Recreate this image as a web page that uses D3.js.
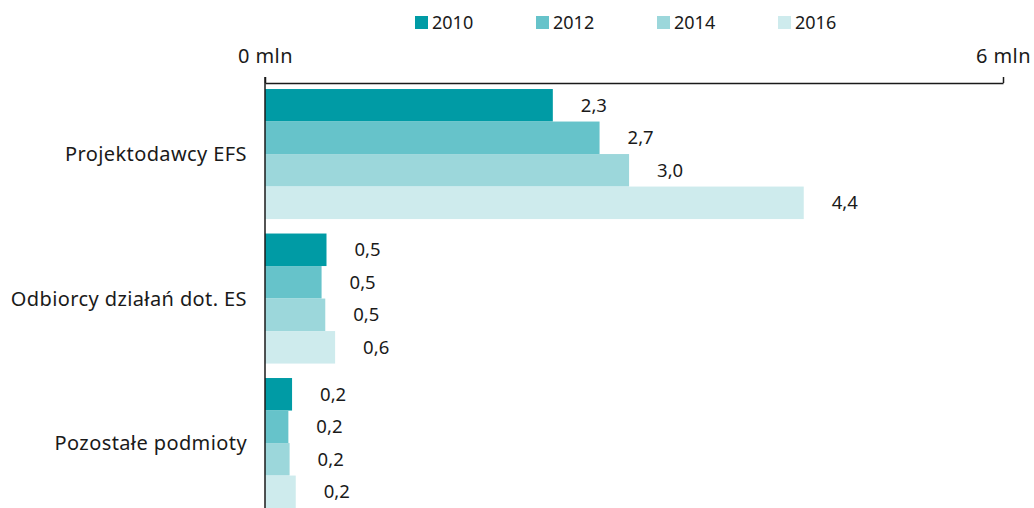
<!DOCTYPE html>
<html>
<head>
<meta charset="utf-8">
<script src="https://cdn.jsdelivr.net/npm/d3@7"></script>
<style>
body{margin:0;background:#fff;}
text{font-family:"Noto Sans",sans-serif;fill:#1a1a1a;}
</style>
</head>
<body>
<div id="chart"></div>
<script>
var w = 1034, h = 508;

// dane (mln)
var categories = ["Projektodawcy EFS", "Odbiorcy działań dot. ES", "Pozostałe podmioty"];
var years = ["2010", "2012", "2014", "2016"];
var values2010 = [2.34, 0.50, 0.22];
var values2012 = [2.72, 0.46, 0.19];
var values2014 = [2.96, 0.49, 0.20];
var values2016 = [4.38, 0.57, 0.25];
var labels2010 = ["2,3", "0,5", "0,2"];
var labels2012 = ["2,7", "0,5", "0,2"];
var labels2014 = ["3,0", "0,5", "0,2"];
var labels2016 = ["4,4", "0,6", "0,2"];
var tickValues = [0, 6];
var colors = ["#009ba5", "#66c3ca", "#9cd7db", "#ceebed"];

var series = [values2010, values2012, values2014, values2016];
var labels = [labels2010, labels2012, labels2014, labels2016];

var svg = d3.select("#chart").append("svg")
    .attr("width", w)
    .attr("height", h);

var x = d3.scaleLinear().domain([0, 6]).range([265, 1003]);

var y = d3.scaleBand().domain(categories)
    .range([81.8, 515.3])
    .paddingInner(0.1)
    .paddingOuter(0.05);

var y1 = d3.scaleBand().domain(years).range([0, y.bandwidth()]);

// legenda
var legend = svg.selectAll(".leg")
    .data(years)
    .enter().append("g")
    .attr("class", "leg")
    .attr("transform", function (d, i) { return "translate(" + (415 + i * 121) + ",0)"; });

legend.append("rect")
    .attr("x", 0).attr("y", 16)
    .attr("width", 13).attr("height", 13)
    .attr("fill", function (d, i) { return colors[i]; });

legend.append("text")
    .attr("x", 17).attr("y", 29)
    .attr("font-size", 18)
    .text(function (d) { return d; });

// grupy słupków
var groups = svg.selectAll(".grp")
    .data(categories)
    .enter().append("g")
    .attr("class", "grp")
    .attr("transform", function (d) { return "translate(0," + y(d) + ")"; });

years.forEach(function (yr, k) {
    groups.append("rect")
        .attr("x", x(0))
        .attr("y", y1(yr))
        .attr("width", function (d, i) { return x(series[k][i]) - x(0); })
        .attr("height", y1.bandwidth())
        .attr("fill", colors[k]);

    groups.append("text")
        .attr("x", function (d, i) { return x(series[k][i]) + 28; })
        .attr("y", y1(yr) + y1.bandwidth() / 2)
        .attr("dy", "0.35em")
        .attr("font-size", 18.5)
        .text(function (d, i) { return labels[k][i]; });
});

// etykiety kategorii
svg.selectAll(".cat")
    .data(categories)
    .enter().append("text")
    .attr("class", "cat")
    .attr("x", 247)
    .attr("y", function (d) { return y(d) + y.bandwidth() / 2; })
    .attr("dy", "0.35em")
    .attr("text-anchor", "end")
    .attr("font-size", 20)
    .attr("letter-spacing", 0.4)
    .text(function (d) { return d; });

// oś górna
var axis = svg.append("g")
    .attr("transform", "translate(0,83)")
    .call(d3.axisTop(x).tickValues(tickValues).tickSize(6).tickSizeOuter(0).tickPadding(14)
        .tickFormat(function (d) { return d + " mln"; }));
axis.select(".domain").attr("stroke", "#1a1a1a").attr("stroke-width", 1.5);
axis.selectAll(".tick line").attr("stroke", "#1a1a1a").attr("stroke-width", 1.5);
axis.selectAll(".tick text").attr("font-size", 20).attr("letter-spacing", 0.4)
    .attr("font-family", "Noto Sans").attr("fill", "#1a1a1a");

// oś pionowa
svg.append("line")
    .attr("x1", x(0)).attr("x2", x(0))
    .attr("y1", 77).attr("y2", h)
    .attr("stroke", "#1a1a1a").attr("stroke-width", 1.5);
</script>
</body>
</html>
